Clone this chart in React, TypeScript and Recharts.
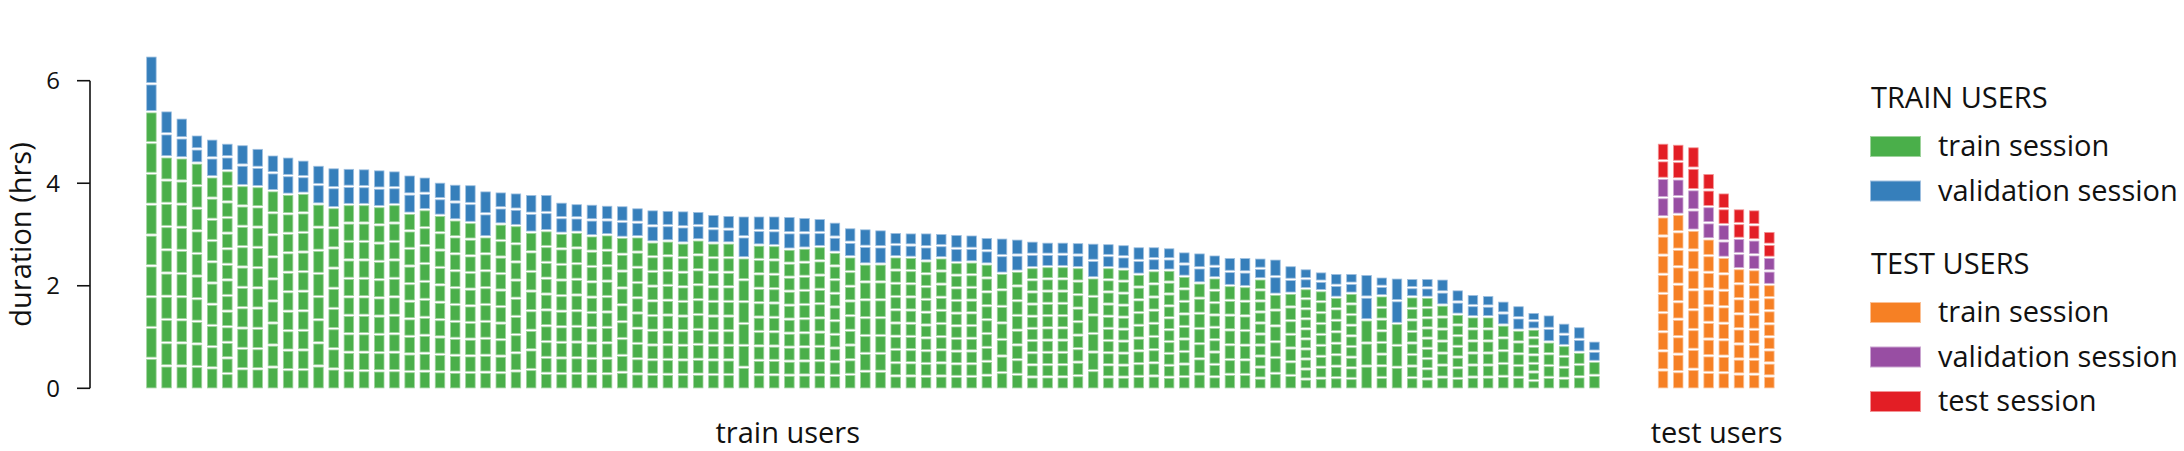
import React from 'react';
import { BarChart, ComposedChart, Bar, Line, XAxis, YAxis, Legend, Label } from 'recharts';

// ---------- DATA ----------
const trainUserTrainHrs = [
  5.41, 4.53, 4.51, 4.41, 4.14, 4.26, 3.97, 3.95, 3.87, 3.80, 3.82, 3.61, 3.54, 3.60, 3.60, 3.56,
  3.60, 3.43, 3.50, 3.39, 3.30, 3.25, 2.97, 3.22, 3.19, 3.06, 3.09, 3.04, 3.06, 2.99, 3.01, 2.96,
  2.97, 2.87, 2.89, 2.85, 2.91, 2.85, 2.85, 2.56, 2.81, 2.80, 2.73, 2.75, 2.78, 2.67, 2.58, 2.44,
  2.44, 2.58, 2.57, 2.50, 2.56, 2.47, 2.48, 2.44, 2.26, 2.30, 2.37, 2.39, 2.39, 2.37, 2.17, 2.37,
  2.34, 2.24, 2.31, 2.32, 2.20, 2.07, 2.17, 2.02, 2.00, 2.15, 1.85, 1.87, 1.96, 1.92, 1.79, 1.87,
  1.35, 1.82, 1.28, 1.80, 1.79, 1.64, 1.46, 1.41, 1.41, 1.25, 1.15, 1.17, 0.92, 0.85, 0.72, 0.54,
];
const trainUserValHrs = [
  1.09, 0.90, 0.78, 0.55, 0.74, 0.54, 0.80, 0.75, 0.70, 0.73, 0.65, 0.76, 0.78, 0.71, 0.70, 0.72,
  0.66, 0.75, 0.64, 0.65, 0.70, 0.74, 0.90, 0.63, 0.64, 0.74, 0.71, 0.61, 0.56, 0.62, 0.58, 0.62,
  0.57, 0.63, 0.60, 0.63, 0.56, 0.56, 0.54, 0.82, 0.57, 0.58, 0.64, 0.60, 0.55, 0.59, 0.57, 0.69,
  0.67, 0.48, 0.48, 0.55, 0.48, 0.55, 0.53, 0.52, 0.69, 0.63, 0.52, 0.48, 0.48, 0.49, 0.68, 0.47,
  0.48, 0.54, 0.47, 0.44, 0.48, 0.59, 0.45, 0.55, 0.57, 0.41, 0.69, 0.54, 0.39, 0.37, 0.47, 0.39,
  0.89, 0.37, 0.89, 0.36, 0.37, 0.51, 0.48, 0.44, 0.42, 0.47, 0.48, 0.33, 0.53, 0.44, 0.50, 0.40,
];
const trainUserTrainSessions = [
  9, 10, 10, 10, 10, 14, 10, 10, 9, 10, 10, 8, 9, 10, 10, 10,
  10, 10, 10, 10, 10, 10, 9, 10, 9, 8, 10, 10, 10, 10, 10, 9,
  10, 10, 10, 10, 10, 10, 10, 6, 10, 10, 10, 10, 10, 10, 9, 7,
  7, 10, 10, 10, 10, 10, 10, 9, 7, 8, 10, 10, 10, 9, 6, 10,
  10, 9, 9, 10, 9, 7, 9, 7, 7, 10, 6, 7, 10, 9, 8, 9,
  3, 8, 3, 8, 9, 7, 7, 6, 6, 5, 5, 7, 4, 4, 3, 2,
];
const trainUserValSessions = [
  2, 2, 2, 2, 2, 2, 2, 2, 2, 2, 2, 2, 2, 2, 2, 2,
  2, 2, 2, 2, 2, 2, 2, 2, 2, 2, 2, 2, 2, 2, 2, 2,
  2, 2, 2, 2, 2, 2, 2, 2, 2, 2, 2, 2, 2, 2, 2, 2,
  2, 2, 2, 2, 2, 2, 2, 2, 2, 2, 2, 2, 2, 2, 2, 2,
  2, 2, 2, 2, 2, 2, 2, 2, 2, 2, 2, 2, 2, 2, 2, 2,
  2, 2, 2, 2, 2, 2, 2, 2, 2, 2, 2, 2, 2, 2, 2, 2,
];

const testUserTrainHrs = [3.36, 3.41, 3.10, 2.93, 2.57, 2.35, 2.33, 2.04];
const testUserValHrs = [0.75, 0.69, 0.79, 0.63, 0.64, 0.59, 0.58, 0.53];
const testUserTestHrs = [0.69, 0.68, 0.84, 0.65, 0.62, 0.58, 0.59, 0.51];
const testUserTrainSessions = [9, 10, 8, 9, 8, 8, 8, 8];
const testUserValSessions = [2, 2, 2, 2, 2, 2, 2, 2];
const testUserTestSessions = [2, 2, 2, 2, 2, 2, 2, 2];

const yTicks = [0, 2, 4, 6];

// ---------- STYLE ----------
const GREEN = '#4aaf4a';
const BLUE = '#367fbb';
const ORANGE = '#f68024';
const PURPLE = '#984ea3';
const RED = '#e31e25';
const EDGE: Record<string, string> = {
  [GREEN]: '#9ed39c',
  [BLUE]: '#9fc0e0',
  [ORANGE]: '#fbc196',
  [PURPLE]: '#cba6d1',
  [RED]: '#f39496',
};
const TEXT_FONT = '"Open Sans", Lato, sans-serif';
const TEXT_SIZE = 29;

const legendGroups = [
  {
    title: 'TRAIN USERS',
    items: [
      { label: 'train session', color: GREEN },
      { label: 'validation session', color: BLUE },
    ],
  },
  {
    title: 'TEST USERS',
    items: [
      { label: 'train session', color: ORANGE },
      { label: 'validation session', color: PURPLE },
      { label: 'test session', color: RED },
    ],
  },
];

const trainRows = trainUserTrainHrs.map((t, i) => ({
  user: `train-${i + 1}`,
  train: t,
  validation: trainUserValHrs[i],
  nTrain: trainUserTrainSessions[i],
  nVal: trainUserValSessions[i],
}));

const testRows = testUserTrainHrs.map((t, i) => ({
  user: `test-${i + 1}`,
  train: t,
  validation: testUserValHrs[i],
  test: testUserTestHrs[i],
  nTrain: testUserTrainSessions[i],
  nVal: testUserValSessions[i],
  nTest: testUserTestSessions[i],
}));

const axisRows = yTicks.map((v) => ({ k: String(v), v }));

// bar split into its sessions, separated by thin white gaps
const segmented = (countKey: string) => (props: any) => {
  const { x, y, width, height, fill, payload } = props;
  if (!height || height <= 0) return <g />;
  const n = Math.max(1, Number(payload?.[countKey]) || 1);
  const h = height / n;
  const gap = 1.6;
  const bottom = y + height;
  const edge = EDGE[fill] || fill;
  return (
    <g>
      {Array.from({ length: n }, (_, i) => {
        const top = bottom - (i + 1) * h + gap;
        return (
          <rect
            key={i}
            x={x + 0.4}
            y={top + 0.4}
            width={Math.max(0, width - 0.8)}
            height={Math.max(0, h - gap - 0.8)}
            fill={fill}
            stroke={edge}
            strokeWidth={0.8}
          />
        );
      })}
    </g>
  );
};

const YTick = (props: any) => {
  const { x, y, payload } = props;
  return (
    <text x={x} y={y} dy={8.4} textAnchor="end" fontFamily={TEXT_FONT} fontSize={24} fill="#111">
      {payload.value}
    </text>
  );
};

const YLabel = (props: any) => {
  const vb = props.viewBox || { x: 0, y: 80.7, width: 90, height: 307.6 };
  const cx = vb.x + 30.5;
  const cy = vb.y + vb.height / 2;
  return (
    <text x={cx} y={cy} transform={`rotate(-90 ${cx} ${cy})`} textAnchor="middle" fontFamily={TEXT_FONT} fontSize={TEXT_SIZE} fill="#111">
      duration (hrs)
    </text>
  );
};

const XLabel = (text: string, shift: number) => (props: any) => {
  const vb = props.viewBox;
  return (
    <text x={vb.x + vb.width / 2 + shift} y={vb.y + 55} textAnchor="middle" fontFamily={TEXT_FONT} fontSize={TEXT_SIZE} fill="#111">
      {text}
    </text>
  );
};

const LegendBlock = () => {
  const rows: React.ReactNode[] = [];
  legendGroups.forEach((g, gi) => {
    const titleBase = gi === 0 ? 27.5 : 193.5;
    rows.push(
      <text key={`t${gi}`} x={11} y={titleBase} fontFamily={TEXT_FONT} fontSize={TEXT_SIZE} fill="#111">
        {g.title}
      </text>
    );
    g.items.forEach((it, ii) => {
      const top = titleBase + 29 + ii * 44.5;
      rows.push(
        <g key={`i${gi}-${ii}`}>
          <rect x={10.5} y={top} width={50} height={20} fill={it.color} stroke={EDGE[it.color]} strokeWidth={1} />
          <text x={78} y={top + 19.5} fontFamily={TEXT_FONT} fontSize={TEXT_SIZE} fill="#111">
            {it.label}
          </text>
        </g>
      );
    });
  });
  return (
    <svg width={330} height={345} style={{ display: 'block', overflow: 'visible' }}>
      {rows}
    </svg>
  );
};

export default function App() {
  return (
    <div style={{ position: 'absolute', left: 0, top: 0, width: 2184, height: 451, background: '#fff', overflow: 'hidden' }}>
      {/* y axis (spine from 0 to 6) */}
      <div style={{ position: 'absolute', left: 0, top: 0 }}>
        <ComposedChart width={140} height={451} data={axisRows} margin={{ top: 80.7, right: 20, bottom: 62.7, left: 0 }}>
          <XAxis dataKey="k" hide />
          <YAxis
            domain={[0, 6]}
            ticks={yTicks}
            interval={0}
            width={90}
            tickSize={13}
            tickMargin={17}
            axisLine={{ stroke: '#111', strokeWidth: 1.6 }}
            tickLine={{ stroke: '#111', strokeWidth: 1.6 }}
            tick={<YTick />}
            label={<Label content={YLabel} />}
          />
          <Line dataKey="v" stroke="none" dot={false} activeDot={false} isAnimationActive={false} />
        </ComposedChart>
      </div>

      {/* train users */}
      <div style={{ position: 'absolute', left: 0, top: 0 }}>
        <BarChart width={1610} height={451} data={trainRows} margin={{ top: 55.05, right: 7.5, bottom: 0, left: 144.25 }} barSize={10.3}>
          <XAxis dataKey="user" height={62.7} axisLine={false} tickLine={false} tick={false} label={<Label content={XLabel('train users', -85.6)} />} />
          <YAxis hide domain={[0, 6.5]} />
          <Bar dataKey="train" stackId="s" fill={GREEN} shape={segmented('nTrain')} isAnimationActive={false} />
          <Bar dataKey="validation" stackId="s" fill={BLUE} shape={segmented('nVal')} isAnimationActive={false} />
        </BarChart>
      </div>

      {/* test users + legend */}
      <div style={{ position: 'absolute', left: 0, top: 0 }}>
        <BarChart width={2184} height={451} data={testRows} margin={{ top: 55.05, right: 406.6, bottom: 0, left: 1655.9 }} barSize={10.3}>
          <XAxis dataKey="user" height={62.7} axisLine={false} tickLine={false} tick={false} label={<Label content={XLabel('test users', 0)} />} />
          <YAxis hide domain={[0, 6.5]} />
          <Bar dataKey="train" stackId="s" fill={ORANGE} shape={segmented('nTrain')} isAnimationActive={false} />
          <Bar dataKey="validation" stackId="s" fill={PURPLE} shape={segmented('nVal')} isAnimationActive={false} />
          <Bar dataKey="test" stackId="s" fill={RED} shape={segmented('nTest')} isAnimationActive={false} />
          <Legend
            layout="vertical"
            align="center"
            verticalAlign="middle"
            wrapperStyle={{ position: 'absolute', left: 1860, top: 80, width: 330, height: 345 }}
            content={() => <LegendBlock />}
          />
        </BarChart>
      </div>
    </div>
  );
}
